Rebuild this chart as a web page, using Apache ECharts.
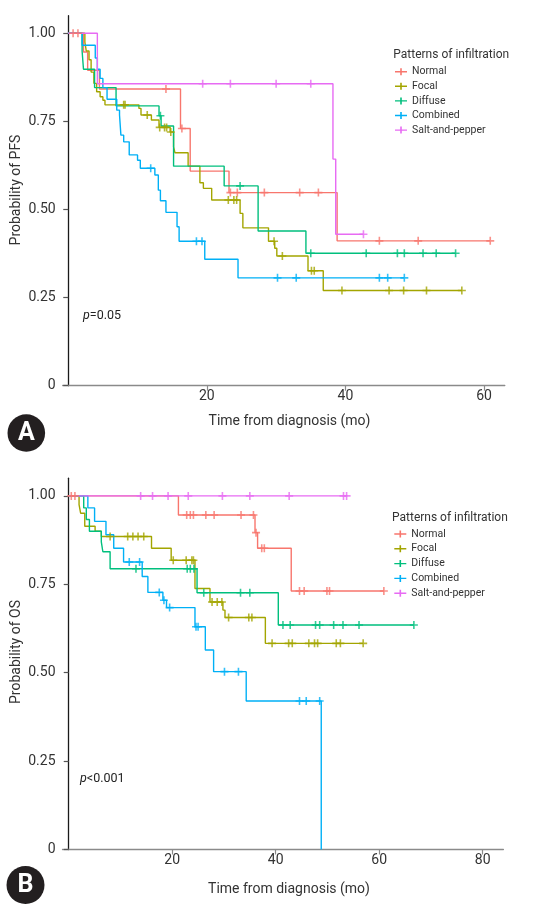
<!DOCTYPE html>
<html><head><meta charset="utf-8">
<script src="https://cdn.jsdelivr.net/npm/echarts@6/dist/echarts.min.js"></script>
<style>html,body{margin:0;padding:0;background:#fff}#c{width:536px;height:915px}</style>
</head><body><div id="c"></div>
<script>
const groups = ['Normal', 'Focal', 'Diffuse', 'Combined', 'Salt-and-pepper'];
const colors = ['#F8766D', '#A3A500', '#00BF7D', '#00B0F6', '#E76BF3'];
const xTicksA = [20, 40, 60];
const xTicksB = [20, 40, 60, 80];
const yTicks = [0, 0.25, 0.5, 0.75, 1];

// Panel A (PFS): event times (T), survival after event (S), censor times (C)
const pfsNormalT = [2.2, 2.8, 4.5, 16.2, 17.6, 23.2, 38.8];
const pfsNormalS = [0.947, 0.895, 0.842, 0.730, 0.609, 0.548, 0.411];
const pfsNormalC = [0.7, 1.4, 14.1, 16.4, 23.4, 24.4, 28.3, 33.4, 36.1, 44.9, 50.5, 60.9];

const pfsFocalT = [2.4, 2.6, 3.0, 3.3, 3.7, 4.1, 4.6, 5.0, 5.3, 10.2, 10.5, 12.0, 13.1, 14.7, 15.2, 15.4, 17.3, 19.0, 19.5, 20.7, 24.8, 25.2, 28.9, 29.8, 30.1, 34.6, 36.8];
const pfsFocalS = [0.975, 0.95, 0.925, 0.89, 0.858, 0.834, 0.82, 0.81, 0.797, 0.787, 0.768, 0.754, 0.733, 0.72, 0.678, 0.661, 0.623, 0.576, 0.56, 0.527, 0.489, 0.448, 0.41, 0.39, 0.368, 0.326, 0.27];
const pfsFocalC = [8.0, 8.2, 11.4, 13.2, 13.9, 14.2, 14.8, 23.1, 23.9, 24.3, 29.7, 30.9, 35.1, 35.5, 39.5, 46.3, 48.4, 51.7, 56.8];

const pfsDiffuseT = [2.0, 2.2, 3.8, 6.9, 13.1, 13.4, 15.2, 22.5, 27.4, 34.3];
const pfsDiffuseS = [0.95, 0.898, 0.846, 0.794, 0.766, 0.737, 0.623, 0.567, 0.439, 0.376];
const pfsDiffuseC = [13.3, 24.8, 35.0, 43.0, 47.5, 48.5, 51.2, 53.1, 55.9];

const pfsCombinedT = [2.0, 3.9, 4.2, 4.6, 5.0, 5.6, 7.0, 7.4, 7.6, 8.0, 8.8, 10.0, 10.4, 12.5, 13.0, 13.3, 14.1, 15.7, 16.0, 19.7, 24.5];
const pfsCombinedS = [0.966, 0.93, 0.898, 0.872, 0.846, 0.813, 0.782, 0.768, 0.711, 0.692, 0.655, 0.640, 0.617, 0.598, 0.555, 0.525, 0.492, 0.451, 0.41, 0.359, 0.306];
const pfsCombinedC = [11.9, 18.5, 19.3, 30.2, 32.9, 44.9, 46.1, 48.5];

const pfsSaltT = [4.2, 38.2, 38.6];
const pfsSaltS = [0.857, 0.643, 0.43];
const pfsSaltC = [19.4, 23.4, 30.0, 35.0, 42.6];

// Panel B (OS)
const osNormalT = [21.2, 36.0, 36.5, 43.0];
const osNormalS = [0.946, 0.896, 0.852, 0.731];
const osNormalC = [0.5, 1.2, 22.8, 23.5, 24.1, 26.5, 28.1, 33.3, 35.7, 36.2, 37.3, 37.8, 44.6, 45.5, 49.9, 50.4, 60.9];

const osFocalT = [2.0, 2.3, 3.1, 5.1, 6.3, 16.0, 19.8, 24.4, 27.3, 29.8, 30.2, 38.0];
const osFocalS = [0.975, 0.951, 0.914, 0.9, 0.885, 0.852, 0.818, 0.738, 0.70, 0.677, 0.656, 0.583];
const osFocalC = [8.0, 11.4, 12.4, 13.4, 14.5, 20.2, 22.7, 23.8, 24.1, 27.7, 28.7, 29.6, 30.9, 34.8, 35.4, 39.3, 42.5, 43.2, 46.4, 47.5, 48.1, 51.7, 52.5, 56.9];

const osDiffuseT = [2.9, 3.4, 4.0, 6.3, 6.6, 8.0, 24.8, 40.5];
const osDiffuseS = [0.966, 0.933, 0.9, 0.87, 0.842, 0.794, 0.726, 0.635];
const osDiffuseC = [13.0, 22.9, 23.5, 24.2, 26.1, 33.2, 35.0, 41.4, 42.8, 47.7, 48.5, 51.2, 53.0, 56.1, 66.7];

const osCombinedT = [3.7, 5.0, 7.2, 8.7, 10.6, 14.2, 15.3, 18.2, 18.9, 24.4, 26.4, 28.0, 34.3, 48.8];
const osCombinedS = [0.966, 0.928, 0.89, 0.852, 0.813, 0.772, 0.727, 0.705, 0.684, 0.63, 0.564, 0.503, 0.42, 0];
const osCombinedC = [11.7, 13.7, 17.5, 18.4, 19.5, 24.6, 25.0, 30.1, 32.8, 44.6, 45.9, 48.5];

const osSaltT = [];
const osSaltS = [];
const osSaltC = [13.9, 16.2, 19.2, 23.1, 29.7, 35.0, 42.6, 53.1, 53.7];

const panelA = [[pfsNormalT, pfsNormalS, pfsNormalC], [pfsFocalT, pfsFocalS, pfsFocalC], [pfsDiffuseT, pfsDiffuseS, pfsDiffuseC], [pfsCombinedT, pfsCombinedS, pfsCombinedC], [pfsSaltT, pfsSaltS, pfsSaltC]];
const panelB = [[osNormalT, osNormalS, osNormalC], [osFocalT, osFocalS, osFocalC], [osDiffuseT, osDiffuseS, osDiffuseC], [osCombinedT, osCombinedS, osCombinedC], [osSaltT, osSaltS, osSaltC]];

function stepData(T, S, C) {
  const d = [[0, 1]];
  for (let i = 0; i < T.length; i++) d.push([T[i], S[i]]);
  const lastT = T.length ? T[T.length - 1] : 0;
  const lastC = C.length ? Math.max.apply(null, C) : 0;
  const lastS = S.length ? S[S.length - 1] : 1;
  if (lastC > lastT) d.push([lastC, lastS]);
  return d;
}
function censorData(T, S, C) {
  return C.map(function (c) {
    let s = 1;
    for (let i = 0; i < T.length; i++) { if (T[i] <= c) s = S[i]; }
    return [c, s];
  });
}

const PLUS = 'path://M4,0H6V4H10V6H6V10H4V6H0V4H4Z';
const LEG = 'path://M0,3.3H12V4.7H0Z M5.2,0.5H6.8V7.5H5.2Z';
const FONT = 'Roboto';

const series = [];
[panelA, panelB].forEach(function (panel, p) {
  panel.forEach(function (g, i) {
    series.push({
      type: 'line', name: groups[i], xAxisIndex: p, yAxisIndex: p,
      step: 'end', data: stepData(g[0], g[1], g[2]),
      showSymbol: false, symbol: 'none', z: 2 + i * 0.01,
      lineStyle: { color: colors[i], width: 1.4 }, itemStyle: { color: colors[i] },
      emphasis: { disabled: true }
    });
    series.push({
      type: 'scatter', name: groups[i], xAxisIndex: p, yAxisIndex: p,
      data: censorData(g[0], g[1], g[2]),
      symbol: PLUS, symbolSize: 8, z: 3,
      itemStyle: { color: colors[i] }, emphasis: { disabled: true }
    });
  });
});

function xAxisCfg(gi, min, max, ticks) {
  return {
    type: 'value', gridIndex: gi, min: min, max: max,
    splitLine: { show: false },
    axisLine: { show: true, onZero: false, lineStyle: { color: '#8a8a8a', width: 1.3 } },
    axisTick: { show: true, length: 5, customValues: ticks, lineStyle: { color: '#8a8a8a', width: 1.2 } },
    axisLabel: { customValues: ticks, margin: 4, fontSize: 14, fontFamily: FONT, color: '#333' }
  };
}
function yAxisCfg(gi) {
  return {
    type: 'value', gridIndex: gi, min: 0, max: 1.05,
    splitLine: { show: false },
    axisLine: { show: true, onZero: true, lineStyle: { color: '#1a1a1a', width: 1.3 } },
    axisTick: { show: true, length: 5, customValues: yTicks, lineStyle: { color: '#555', width: 1.2 } },
    axisLabel: {
      customValues: yTicks, margin: 7, fontSize: 14, fontFamily: FONT, color: '#333',
      formatter: function (v) { return v === 0 ? '0' : v.toFixed(2); }
    }
  };
}
function legendCfg(left, top, gap) {
  return {
    orient: 'vertical', left: left, top: top, itemWidth: 12, itemHeight: 8, itemGap: gap,
    icon: LEG, data: groups, selectedMode: false,
    textStyle: { fontSize: 10.5, fontFamily: FONT, color: '#333', lineHeight: 12 }
  };
}
function txt(x, y, text, size, align) {
  return {
    type: 'text', x: x, y: y, z: 10,
    style: { text: text, fontSize: size, fontFamily: FONT, fill: '#333', align: align || 'left', verticalAlign: 'middle' }
  };
}

const option = {
  animation: false,
  backgroundColor: '#fff',
  grid: [
    { left: 62.7, top: 15.7, width: 442.1, height: 370, containLabel: false, outerBoundsMode: 'none' },
    { left: 62.5, top: 478.2, width: 440.9, height: 371.3, containLabel: false, outerBoundsMode: 'none' }
  ],
  xAxis: [xAxisCfg(0, -0.8, 63, xTicksA), xAxisCfg(1, -1.2, 84, xTicksB)],
  yAxis: [yAxisCfg(0), yAxisCfg(1)],
  legend: [legendCfg(390, 60.7, 2.6), legendCfg(389.3, 523, 2.8)],
  series: series,
  graphic: [
    txt(393.3, 55, 'Patterns of infiltration', 12),
    txt(392, 518.3, 'Patterns of infiltration', 12),
    txt(289.5, 421, 'Time from diagnosis (mo)', 14, 'center'),
    txt(289, 889.5, 'Time from diagnosis (mo)', 14, 'center'),
    { type: 'text', x: 16, y: 190, rotation: Math.PI / 2, z: 10,
      style: { text: 'Probability of PFS', fontSize: 14, fontFamily: FONT, fill: '#333', align: 'center', verticalAlign: 'middle' } },
    { type: 'text', x: 16, y: 652, rotation: Math.PI / 2, z: 10,
      style: { text: 'Probability of OS', fontSize: 14, fontFamily: FONT, fill: '#333', align: 'center', verticalAlign: 'middle' } },
    { type: 'text', x: 83, y: 316, z: 10,
      style: { text: '{i|p}=0.05', fontSize: 12.5, fontFamily: FONT, fill: '#222', verticalAlign: 'middle',
        rich: { i: { fontStyle: 'italic', fontSize: 12.5, fontFamily: FONT, fill: '#222' } } } },
    { type: 'text', x: 80, y: 779, z: 10,
      style: { text: '{i|p}<0.001', fontSize: 12.5, fontFamily: FONT, fill: '#222', verticalAlign: 'middle',
        rich: { i: { fontStyle: 'italic', fontSize: 12.5, fontFamily: FONT, fill: '#222' } } } },
    { type: 'circle', shape: { cx: 26.3, cy: 433, r: 18.8 }, style: { fill: '#231f20' }, z: 10 },
    { type: 'text', x: 26.3, y: 434, z: 11,
      style: { text: 'A', fontSize: 25, fontWeight: 'bold', fontFamily: FONT, fill: '#fff', align: 'center', verticalAlign: 'middle' } },
    { type: 'circle', shape: { cx: 25.5, cy: 885, r: 19 }, style: { fill: '#231f20' }, z: 10 },
    { type: 'text', x: 25.5, y: 886, z: 11,
      style: { text: 'B', fontSize: 25, fontWeight: 'bold', fontFamily: FONT, fill: '#fff', align: 'center', verticalAlign: 'middle' } }
  ]
};

const chart = echarts.init(document.getElementById('c'));
chart.setOption(option);
</script>
</body></html>
